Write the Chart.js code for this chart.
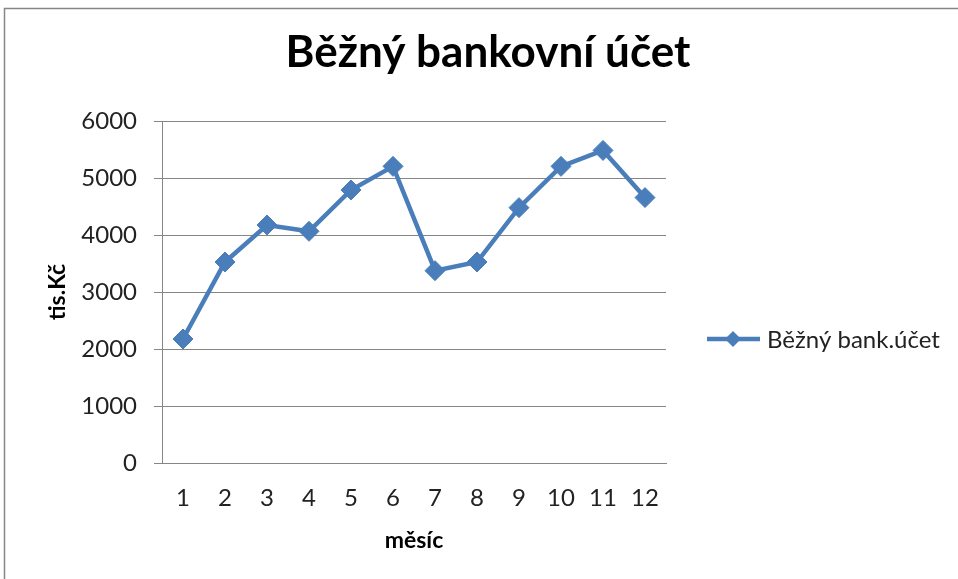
<!DOCTYPE html>
<html>
<head>
<meta charset="utf-8">
<script src="https://cdn.jsdelivr.net/npm/chart.js@4"></script>
<style>
  html, body { margin: 0; padding: 0; background: #fff; }
  canvas { display: block; }
</style>
</head>
<body>
<canvas id="myChart" width="958" height="579"></canvas>
<script>
// data
const months = ['1', '2', '3', '4', '5', '6', '7', '8', '9', '10', '11', '12'];
const balance = [2175, 3526, 4175, 4065, 4790, 5204, 3374, 3526, 4480, 5204, 5484, 4656];
const seriesName = 'Běžný bank.účet';
const chartTitle = 'Běžný bankovní účet';

const blue = '#4A7EBB';
const gray = '#868686';
const font = 'Lato, "Open Sans", sans-serif';

// frame, title and legend drawn by hand (Excel style)
const excelDecor = {
    id: 'excelDecor',
    beforeDraw(chart) {
        const {ctx} = chart;
        ctx.save();
        ctx.strokeStyle = gray;
        ctx.lineWidth = 1.5;
        ctx.beginPath();
        ctx.moveTo(4.5, chart.height + 2);
        ctx.lineTo(4.5, 8.5);
        ctx.lineTo(chart.width + 2, 8.5);
        ctx.stroke();
        ctx.restore();
    },
    afterDraw(chart, args, options) {
        const {ctx} = chart;
        ctx.save();
        // title
        ctx.fillStyle = '#000';
        ctx.font = `bold ${options.titleSize}px ${font}`;
        ctx.textAlign = 'center';
        ctx.textBaseline = 'alphabetic';
        ctx.fillText(chartTitle, 488, 67);

        // legend
        const y = 339;
        ctx.strokeStyle = blue;
        ctx.lineWidth = 4.5;
        ctx.beginPath();
        ctx.moveTo(707, y);
        ctx.lineTo(760, y);
        ctx.stroke();
        ctx.fillStyle = blue;
        ctx.beginPath();
        ctx.moveTo(733, y - 8);
        ctx.lineTo(741, y);
        ctx.lineTo(733, y + 8);
        ctx.lineTo(725, y);
        ctx.closePath();
        ctx.fill();
        ctx.fillStyle = '#222';
        ctx.font = `${options.legendSize}px ${font}`;
        ctx.textAlign = 'left';
        ctx.textBaseline = 'middle';
        ctx.fillText(seriesName, 767, y + 1);
        ctx.restore();
    }
};

const config = {
    type: 'line',
    data: {
        labels: months,
        datasets: [{
            label: seriesName,
            data: balance,
            borderColor: blue,
            backgroundColor: blue,
            borderWidth: 4.5,
            pointStyle: 'rectRot',
            pointRadius: 10,
            pointBorderWidth: 1,
            pointBorderColor: blue,
            pointBackgroundColor: blue,
            tension: 0
        }]
    },
    options: {
        responsive: false,
        animation: false,
        layout: {
            padding: {top: 121, left: 0, right: 292, bottom: 0}
        },
        scales: {
            x: {
                offset: true,
                grid: {display: false, drawTicks: false},
                border: {display: true, color: gray, width: 1},
                ticks: {
                    color: '#222',
                    font: {family: font, size: 24},
                    padding: 21,
                    maxRotation: 0
                },
                title: {
                    display: true,
                    text: 'měsíc',
                    color: '#000',
                    font: {family: font, size: 23, weight: 'bold'},
                    padding: {top: 0, bottom: 25}
                },
                afterFit: scale => { scale.height = 116; }
            },
            y: {
                min: 0,
                max: 6000,
                grid: {color: gray, lineWidth: 1, tickLength: 8},
                border: {display: true, color: gray, width: 1},
                ticks: {
                    stepSize: 1000,
                    color: '#222',
                    font: {family: font, size: 24},
                    padding: 17,
                    callback: value => String(value)
                },
                title: {
                    display: true,
                    text: 'tis.Kč',
                    color: '#000',
                    font: {family: font, size: 23, weight: 'bold'},
                    padding: {top: 44, bottom: 0}
                },
                afterFit: scale => { scale.width = 162; }
            }
        },
        plugins: {
            legend: {display: false},
            title: {display: false},
            tooltip: {enabled: false},
            excelDecor: {titleSize: 44, legendSize: 24}
        }
    },
    plugins: [excelDecor]
};

const myChart = new Chart(document.getElementById('myChart'), config);
</script>
</body>
</html>
